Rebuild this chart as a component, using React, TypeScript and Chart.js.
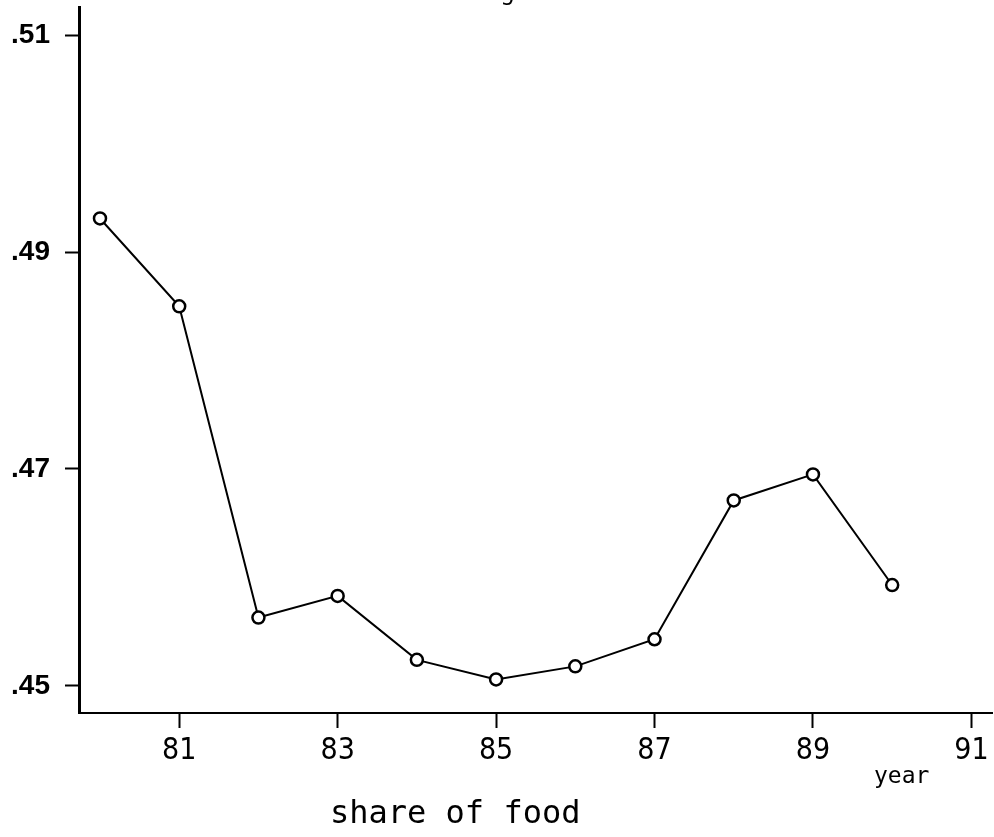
import React, { useEffect, useRef } from "react";
import { Chart, registerables } from "chart.js";

Chart.register(...registerables);

const years = [80, 81, 82, 83, 84, 85, 86, 87, 88, 89, 90];
const shareOfFood = [0.4931, 0.485, 0.4563, 0.4583, 0.4524, 0.4506, 0.4518, 0.4543, 0.4671, 0.4695, 0.4593];
const xTickValues = [81, 83, 85, 87, 89, 91];
const yTickValues = [0.45, 0.47, 0.49, 0.51];
const yTickLabels = [".45", ".47", ".49", ".51"];
const xAxisTitle = "year";
const chartCaption = "share of food";
const chartTitle = "Figure 3";

export default function App() {
  const ref = useRef<HTMLCanvasElement>(null);

  useEffect(() => {
    document.body.style.margin = "0";
    const textPlugin = {
      id: "extraTexts",
      afterDraw(chart: any) {
        const ctx = chart.ctx as CanvasRenderingContext2D;
        ctx.save();
        ctx.fillStyle = "#000";
        ctx.textBaseline = "alphabetic";
        ctx.font = "25px 'DejaVu Sans Mono', monospace";
        ctx.textAlign = "center";
        ctx.fillText(chartTitle, 530, 0);
        ctx.textAlign = "left";
        ctx.font = "23px 'DejaVu Sans Mono', monospace";
        ctx.fillText(xAxisTitle, 874, 783);
        ctx.font = "32px 'DejaVu Sans Mono', monospace";
        ctx.fillText(chartCaption, 330, 823);
        ctx.restore();
      },
    };

    const chart = new Chart(ref.current!, {
      type: "line",
      data: {
        datasets: [
          {
            data: years.map((x, i) => ({ x, y: shareOfFood[i] })),
            borderColor: "#000",
            borderWidth: 2,
            pointRadius: 6,
            pointBorderWidth: 2.5,
            pointBackgroundColor: "#fff",
            pointBorderColor: "#000",
            tension: 0,
          },
        ],
      },
      options: {
        responsive: false,
        animation: false,
        devicePixelRatio: 1,
        layout: { autoPadding: false, padding: { top: 7, right: 2, left: 0, bottom: 0 } },
        plugins: {
          legend: { display: false },
          tooltip: { enabled: false },
          title: { display: false },
        },
        scales: {
          x: {
            type: "linear",
            min: 79.735,
            max: 91.26,
            afterBuildTicks: (s: any) => {
              s.ticks = xTickValues.map((v) => ({ value: v }));
            },
            afterFit: (s: any) => {
              s.height = 124;
              s.paddingLeft = 0;
              s.paddingRight = 0;
            },
            grid: {
              display: true,
              drawOnChartArea: false,
              tickLength: 15,
              tickWidth: 2,
              tickColor: "#000",
            },
            border: { display: true, color: "#000", width: 2 },
            ticks: {
              color: "#000",
              font: { family: "'Liberation Sans Narrow', 'DejaVu Sans Condensed', sans-serif", size: 30 },
              padding: 5,
              maxRotation: 0,
              autoSkip: false,
              callback: (v: any) => String(v),
            },
          },
          y: {
            type: "linear",
            min: 0.4475,
            max: 0.5126,
            afterBuildTicks: (s: any) => {
              s.ticks = yTickValues.map((v) => ({ value: v }));
            },
            afterFit: (s: any) => {
              s.width = 79;
              s.paddingTop = 0;
              s.paddingBottom = 0;
            },
            grid: {
              display: true,
              drawOnChartArea: false,
              tickLength: 14,
              tickWidth: 2,
              tickColor: "#000",
            },
            border: { display: true, color: "#000", width: 3 },
            ticks: {
              color: "#000",
              font: { family: "'Liberation Sans', Arial, sans-serif", size: 28, weight: "bold" },
              padding: 15,
              autoSkip: false,
              callback: (v: any) => {
                const i = yTickValues.findIndex((t) => Math.abs(t - Number(v)) < 1e-6);
                return i >= 0 ? yTickLabels[i] : "";
              },
            },
          },
        },
      },
      plugins: [textPlugin],
    });
    return () => chart.destroy();
  }, []);

  return (
    <div style={{ position: "absolute", left: 0, top: 0, width: 994, height: 837, background: "#fff" }}>
      <canvas ref={ref} width={994} height={837} style={{ display: "block" }} />
    </div>
  );
}
